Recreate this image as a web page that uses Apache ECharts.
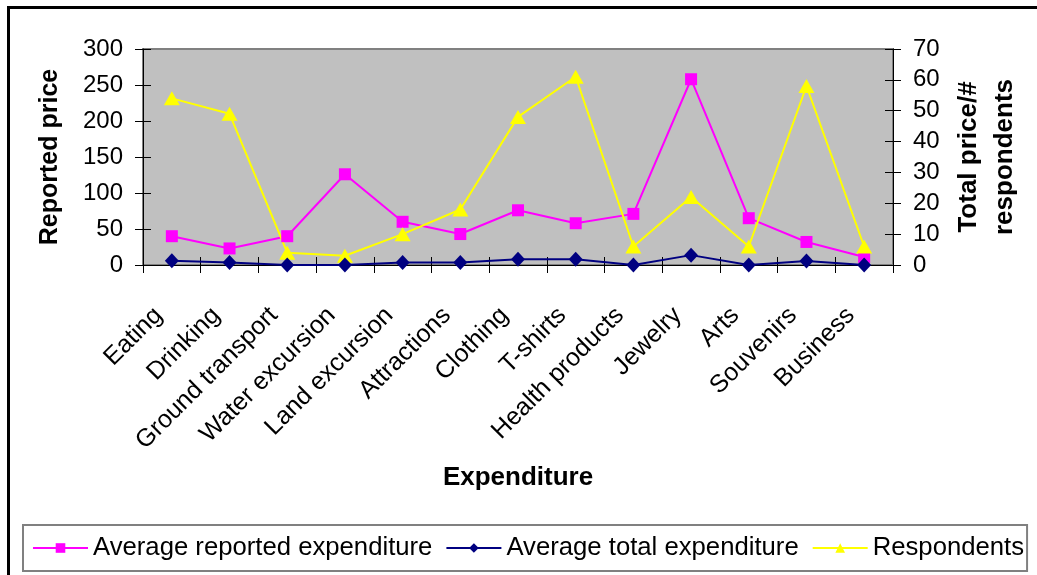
<!DOCTYPE html>
<html>
<head>
<meta charset="utf-8">
<script src="https://cdn.jsdelivr.net/npm/echarts@6/dist/echarts.min.js"></script>
<style>
  html, body { margin: 0; padding: 0; background: #fff; }
  #chart { width: 1037px; height: 575px; }
</style>
</head>
<body>
<div id="chart"></div>
<script>
// Spending categories along the x axis
const categories = ['Eating', 'Drinking', 'Ground transport', 'Water excursion', 'Land excursion',
  'Attractions', 'Clothing', 'T-shirts', 'Health products', 'Jewelry', 'Arts', 'Souvenirs', 'Business'];

// Average reported expenditure (left axis, reported price)
const avgReported = [40, 23, 40, 126, 60, 43, 76, 58, 71, 258, 65, 32, 11];
// Average total expenditure (right axis, total price / # respondents)
const avgTotal = [1.4, 0.8, 0, 0, 0.8, 0.8, 1.9, 1.9, 0, 3.2, 0, 1.3, 0];
// Number of respondents (right axis)
const respondents = [54, 49, 4, 3, 10, 18, 48, 61, 6, 22, 6, 58, 6];

// Axis ranges
const leftMax = 300, leftStep = 50;
const rightMax = 70, rightStep = 10;

const FONT = "'Liberation Sans', Arial, sans-serif";

const chart = echarts.init(document.getElementById('chart'), null, { renderer: 'canvas' });

const tickCross = { show: true, length: 8, lineStyle: { color: '#000', width: 1 } };

chart.setOption({
  backgroundColor: '#fff',
  animation: false,
  textStyle: { fontFamily: FONT, color: '#000' },
  graphic: [{
    type: 'rect',
    shape: { x: 8.5, y: 7.5, width: 1100, height: 700 },
    style: { fill: 'none', stroke: '#000', lineWidth: 3 },
    silent: true, z: 100
  }],
  grid: {
    left: 143, right: 144, top: 49, bottom: 310,
    show: true, backgroundColor: '#C0C0C0', borderColor: '#808080', borderWidth: 2
  },
  legend: {
    left: 23, top: 525,
    padding: [10, 3, 10, 9],
    itemGap: 13,
    itemWidth: 55, itemHeight: 12,
    borderColor: '#808080', borderWidth: 2, backgroundColor: '#fff',
    textStyle: { fontFamily: FONT, fontSize: 25.7, color: '#000' },
    data: ['Average reported expenditure', 'Average total expenditure', 'Respondents']
  },
  xAxis: [{
    type: 'category', data: categories, boundaryGap: true,
    name: 'Expenditure', nameLocation: 'middle', nameGap: 200,
    nameTextStyle: { fontFamily: FONT, fontSize: 26, fontWeight: 'bold', color: '#000' },
    axisLine: { lineStyle: { color: '#000', width: 1 } },
    axisTick: Object.assign({ interval: 0, inside: false }, tickCross),
    axisLabel: { interval: 0, rotate: 45, margin: 33, fontSize: 25, color: '#000', fontFamily: FONT,
      padding: [0, 19, 0, 0] },
    splitLine: { show: false }
  }, {
    // inner half of the crossing ticks
    type: 'category', data: categories, boundaryGap: true, position: 'bottom',
    axisLine: { show: false },
    axisTick: Object.assign({ interval: 0, inside: true }, tickCross),
    axisLabel: { show: false }, splitLine: { show: false }
  }],
  yAxis: [{
    type: 'value', position: 'left', min: 0, max: leftMax, interval: leftStep,
    name: 'Reported price', nameLocation: 'middle', nameGap: 80, nameRotate: 90,
    nameTextStyle: { fontFamily: FONT, fontSize: 25, fontWeight: 'bold', color: '#000' },
    axisLine: { show: true, lineStyle: { color: '#000', width: 1 } },
    axisTick: Object.assign({ inside: false }, tickCross),
    axisLabel: { margin: 20, fontSize: 24, color: '#000', fontFamily: FONT },
    splitLine: { show: false }
  }, {
    type: 'value', position: 'right', min: 0, max: rightMax, interval: rightStep,
    name: 'Total price/#\nrespondents', nameLocation: 'middle', nameGap: 55, nameRotate: 90,
    nameTextStyle: { fontFamily: FONT, fontSize: 26, fontWeight: 'bold', color: '#000', lineHeight: 36 },
    axisLine: { show: true, lineStyle: { color: '#000', width: 1 } },
    axisTick: Object.assign({ inside: false }, tickCross),
    axisLabel: { margin: 20, fontSize: 24, color: '#000', fontFamily: FONT },
    splitLine: { show: false }
  }, {
    // inner halves of the crossing ticks
    type: 'value', position: 'left', min: 0, max: leftMax, interval: leftStep,
    axisLine: { show: false }, axisTick: Object.assign({ inside: true }, tickCross),
    axisLabel: { show: false }, splitLine: { show: false }
  }, {
    type: 'value', position: 'right', min: 0, max: rightMax, interval: rightStep,
    axisLine: { show: false }, axisTick: Object.assign({ inside: true }, tickCross),
    axisLabel: { show: false }, splitLine: { show: false }
  }],
  series: [{
    name: 'Average reported expenditure', type: 'line', yAxisIndex: 0,
    data: avgReported,
    symbol: 'rect', symbolSize: 12,
    lineStyle: { color: '#FF00FF', width: 2 },
    itemStyle: { color: '#FF00FF' }, z: 3
  }, {
    name: 'Average total expenditure', type: 'line', yAxisIndex: 1,
    data: avgTotal,
    symbol: 'diamond', symbolSize: [14, 15],
    lineStyle: { color: '#000080', width: 2 },
    itemStyle: { color: '#000080' }, z: 4
  }, {
    name: 'Respondents', type: 'line', yAxisIndex: 1,
    data: respondents,
    symbol: 'triangle', symbolSize: [16, 14],
    lineStyle: { color: '#FFFF00', width: 2 },
    itemStyle: { color: '#FFFF00' }, z: 3
  }]
});
</script>
</body>
</html>
